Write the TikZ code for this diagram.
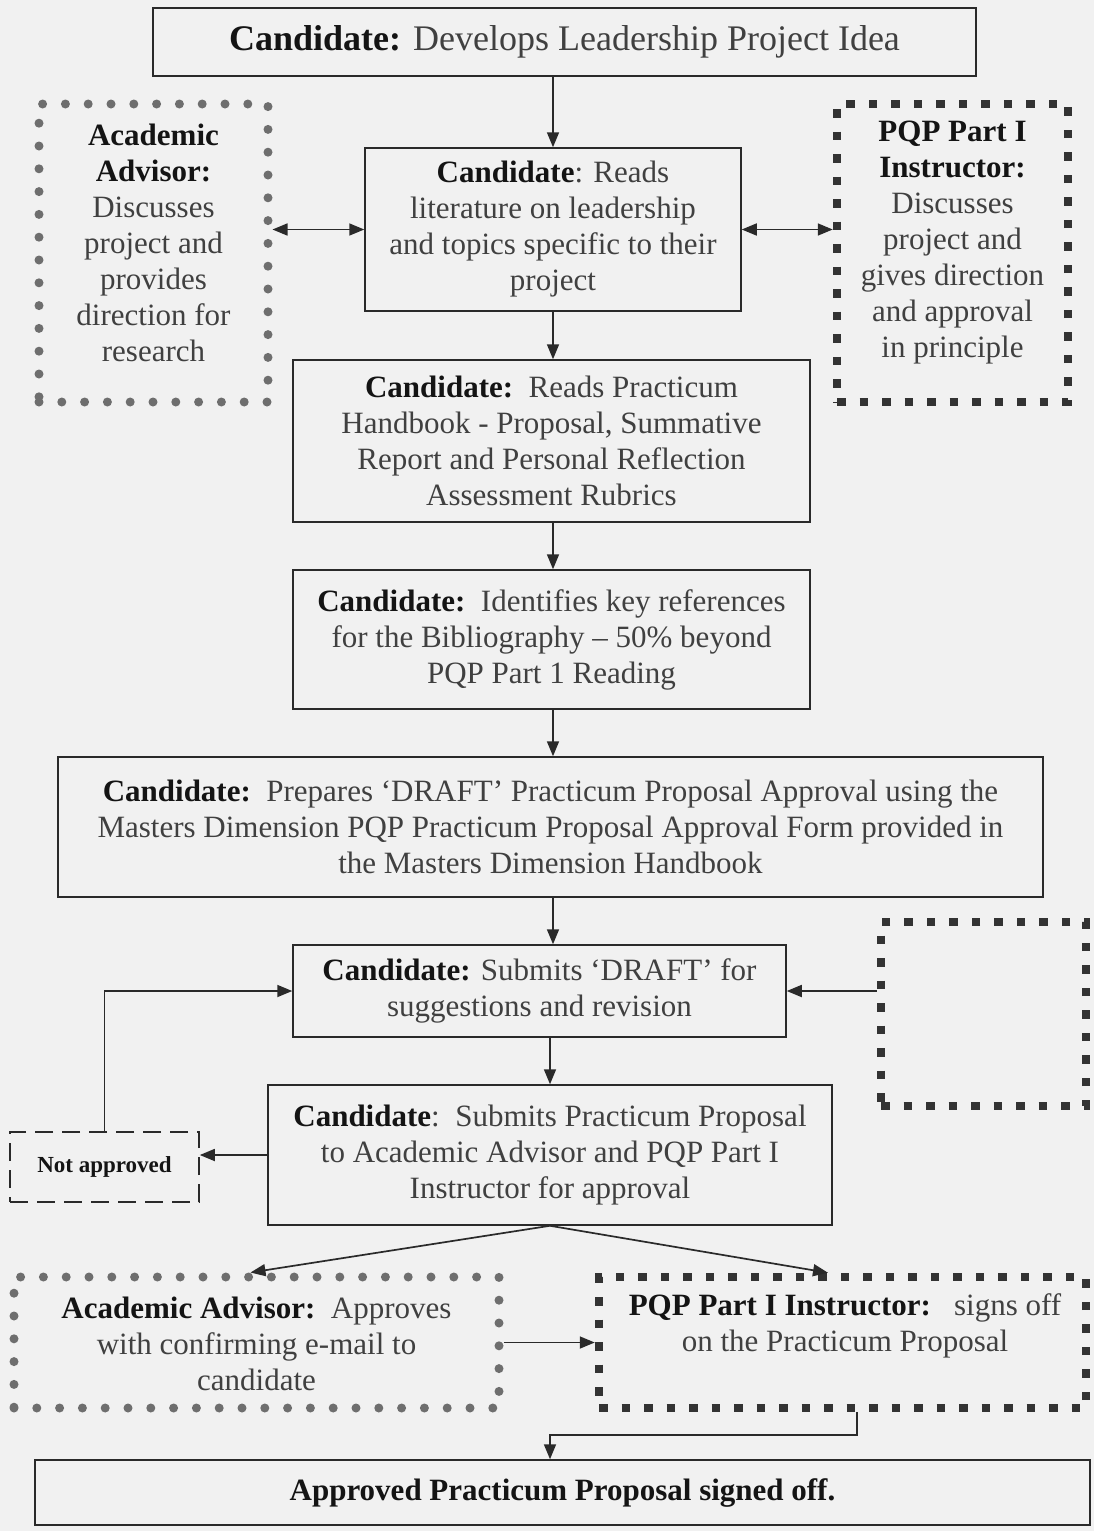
\documentclass[tikz,border=0pt]{standalone}
\usepackage{fontspec}
\setmainfont{Liberation Serif}
\usetikzlibrary{arrows.meta,calc}
\definecolor{bg}{HTML}{F1F1F1}
\definecolor{txt}{HTML}{404040}
\definecolor{ln}{HTML}{2A2A2A}
\definecolor{dotc}{HTML}{6E6E6E}
\definecolor{sqc}{HTML}{333333}
\newcommand\bd[1]{\textbf{\color{black!92}#1}}
\begin{document}
\begin{tikzpicture}[x=1pt,y=-1pt,
 base/.style={inner sep=0pt, align=center, text=txt, font=\fontsize{31}{36}\selectfont},
 box/.style={base, draw=ln, line width=1.5pt},
 dotbox/.style={base, draw=dotc, line width=9pt, line cap=round, dash pattern=on 0pt off 22.8pt},
 sqbox/.style={base, draw=sqc, line width=8.5pt, dash pattern=on 8.5pt off 14pt},
 dashbox/.style={base, draw=ln, line width=1.6pt, dash pattern=on 18pt off 9pt},
 arr/.style={draw=ln, line width=1.7pt, -{Triangle[length=15pt,width=12pt]}},
 darr/.style={draw=ln, line width=1.7pt, {Triangle[length=15pt,width=12pt]}-{Triangle[length=15pt,width=12pt]}},
]
\fill[bg] (0,0) rectangle (1094,1531);
\useasboundingbox (0,0) rectangle (1094,1531);

% main column
\node[box, minimum width=823pt, minimum height=68pt, font=\fontsize{36}{40}\selectfont] (n1) at (564.5,42) {\bd{Candidate:} Develops Leadership Project Idea};
\node[box, minimum width=376pt, minimum height=163pt] (n2) at (553,229.5) {\bd{Candidate}: Reads\\literature on leadership\\and topics specific to their\\project};
\node[box, minimum width=517pt, minimum height=162pt] (n3) at (551.5,441) {\bd{Candidate:}\ \ Reads Practicum\\Handbook - Proposal, Summative\\Report and Personal Reflection\\Assessment Rubrics};
\node[box, minimum width=517pt, minimum height=139pt] (n4) at (551.5,639.5) {\bd{Candidate:}\ \ Identifies key references\\for the Bibliography -- 50\% beyond\\PQP Part 1 Reading};
\node[box, minimum width=985pt, minimum height=140pt] (n5) at (550.5,827) {\bd{Candidate:}\ \ Prepares ‘DRAFT’ Practicum Proposal Approval using the\\Masters Dimension PQP Practicum Proposal Approval Form provided in\\the Masters Dimension Handbook};
\node[box, minimum width=493pt, minimum height=92pt] (n6) at (539.5,991) {\bd{Candidate:} Submits ‘DRAFT’ for\\suggestions and revision};
\node[box, minimum width=564pt, minimum height=140pt] (n7) at (550,1155) {\bd{Candidate}:\ \ Submits Practicum Proposal\\to Academic Advisor and PQP Part I\\Instructor for approval};
\node[box, minimum width=1055pt, minimum height=65pt] (n8) at (562.5,1492.5) {\bd{Approved Practicum Proposal signed off.}};

% side boxes
\node[dotbox, minimum width=229pt, minimum height=298pt] (aa1) at (153.5,253) {};
\node[base] (aa1t) at (153.5,243) {\bd{Academic}\\\bd{Advisor:}\\Discusses\\project and\\provides\\direction for\\research};
\node[sqbox, minimum width=231pt, minimum height=298pt] (pq1) at (952.5,253) {};
\node[base] (pq1t) at (952.5,243) {\bd{PQP Part I}\\\bd{Instructor:}\\Discusses\\project and\\gives direction\\and approval\\in principle};
\node[sqbox, minimum width=205pt, minimum height=184pt] (emp) at (983.5,1014) {};
\node[dashbox, minimum width=189pt, minimum height=70pt, font=\fontsize{23}{26}\selectfont] (na) at (104.5,1167) {\bd{Not approved}};
\node[dotbox, minimum width=485pt, minimum height=131pt] (aa2) at (256.5,1342.5) {};
\node[base] (aa2t) at (256.5,1344) {\bd{Academic Advisor:}\ \ Approves\\with confirming e-mail to\\candidate};
\node[sqbox, minimum width=487pt, minimum height=131pt] (pq2) at (842.5,1342.5) {};
\node[base] (pq2t) at (845,1326) {\bd{PQP Part I Instructor:}\ \ \ signs off\\on the Practicum Proposal};

% connectors
\draw[arr] (n2.north |- n1.south) -- (n2.north);
\draw[arr] (n2.south) -- (n2.south |- n3.north);
\draw[arr] (n2.south |- n3.south) -- (n2.south |- n4.north);
\draw[arr] (n2.south |- n4.south) -- (n2.south |- n5.north);
\draw[arr] (n2.south |- n5.south) -- (n2.south |- n6.north);
\draw[arr] (n7.north |- n6.south) -- (n7.north);
\draw[darr] (aa1.east |- n2.west) -- (n2.west);
\draw[darr] (n2.east) -- (pq1.west |- n2.east);
\draw[arr] (emp.west |- n6.east) -- (n6.east);
\draw[arr] (n7.west) -- (na.east |- n7.west);
\draw[arr] (na.north) |- (n6.west);
\draw[arr] (n7.south) -- ([xshift=-6pt]aa2.north);
\draw[arr] (n7.south) -- ([xshift=-14.5pt]pq2.north);
\draw[arr] (aa2.east) -- (pq2.west);
\coordinate (j1) at (550,1435);
\draw[arr] ([xshift=14.5pt]pq2.south) |- (j1) -- (n8.north -| j1);
\end{tikzpicture}
\end{document}
